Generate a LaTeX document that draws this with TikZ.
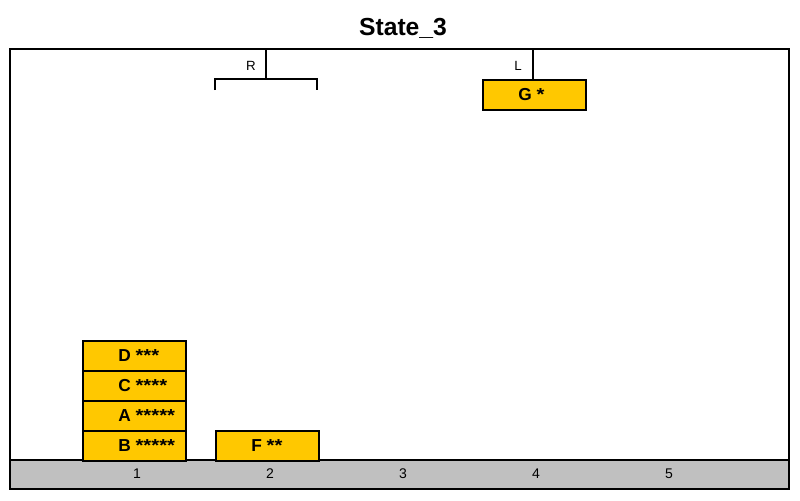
\documentclass[tikz,border=0pt]{standalone}
\usepackage{fontspec}
\usepackage{graphicx}
\setmainfont{Liberation Sans}
\definecolor{blockgold}{HTML}{FFC800}
\definecolor{floorgray}{HTML}{C0C0C0}
\newcommand{\stars}[1]{\scalebox{1.17}[1]{#1}}
\begin{document}
\begin{tikzpicture}[x=0.75pt,y=-0.75pt,
  frame/.style={draw=black,line width=1.5pt},
  blockbox/.style={draw=black,fill=blockgold,line width=1.2pt,minimum width=103*0.75pt,minimum height=30*0.75pt,inner sep=0pt,anchor=north west},
  blocklbl/.style={anchor=base west,inner sep=0pt,font=\fontsize{13}{15}\selectfont\bfseries},
  collbl/.style={anchor=base,inner sep=0pt,font=\fontsize{10.5}{12}\selectfont},
  gripline/.style={draw=black,line width=1.4pt},
  griplbl/.style={anchor=base east,inner sep=0pt,font=\fontsize{10}{12}\selectfont}]
\useasboundingbox (0,0) rectangle (800,500);
% title
\node[anchor=base,inner sep=0pt,font=\fontsize{18.5}{22}\selectfont\bfseries] (title) at (403,35) {State\_3};
% floor
\fill[floorgray] (10,460) rectangle (789,489);
\draw[frame] (10,49) rectangle (789,489);
\draw[frame] (10,460) -- (789,460);
\node[collbl] (c1) at (137,478) {1};
\node[collbl] (c2) at (270,478) {2};
\node[collbl] (c3) at (403,478) {3};
\node[collbl] (c4) at (536,478) {4};
\node[collbl] (c5) at (669,478) {5};
% blocks column 1
\node[blockbox] (D) at (82,340) {};
\node[blockbox] (C) at (82,370) {};
\node[blockbox] (A) at (82,400) {};
\node[blockbox] (B) at (82,430) {};
\node[blocklbl] at (118,361) {D \stars{***}};
\node[blocklbl] at (118,391) {C \stars{****}};
\node[blocklbl] at (118,421) {A \stars{*****}};
\node[blocklbl] at (118,451) {B \stars{*****}};
% block column 2
\node[blockbox] (F) at (215,430) {};
\node[blocklbl] at (251,451) {F \stars{**}};
% gripper R
\coordinate (rtop) at (266,49);
\coordinate (rmid) at (266,79);
\coordinate (rl) at (215,79);
\coordinate (rr) at (317,79);
\coordinate (rlb) at (215,90);
\coordinate (rrb) at (317,90);
\draw[gripline] (rtop) -- (rmid);
\draw[gripline] (rlb) -- (rl) -- (rr) -- (rrb);
\node[griplbl] (Rl) at (256,70) {R};
% gripper L holding G
\coordinate (ltop) at (533,49);
\node[blockbox] (G) at (482,79) {};
\draw[gripline] (ltop) -- (G.north -| ltop);
\node[griplbl] (Ll) at (522,70) {L};
\node[blocklbl] at (518,100) {G \stars{*}};
\end{tikzpicture}
\end{document}
